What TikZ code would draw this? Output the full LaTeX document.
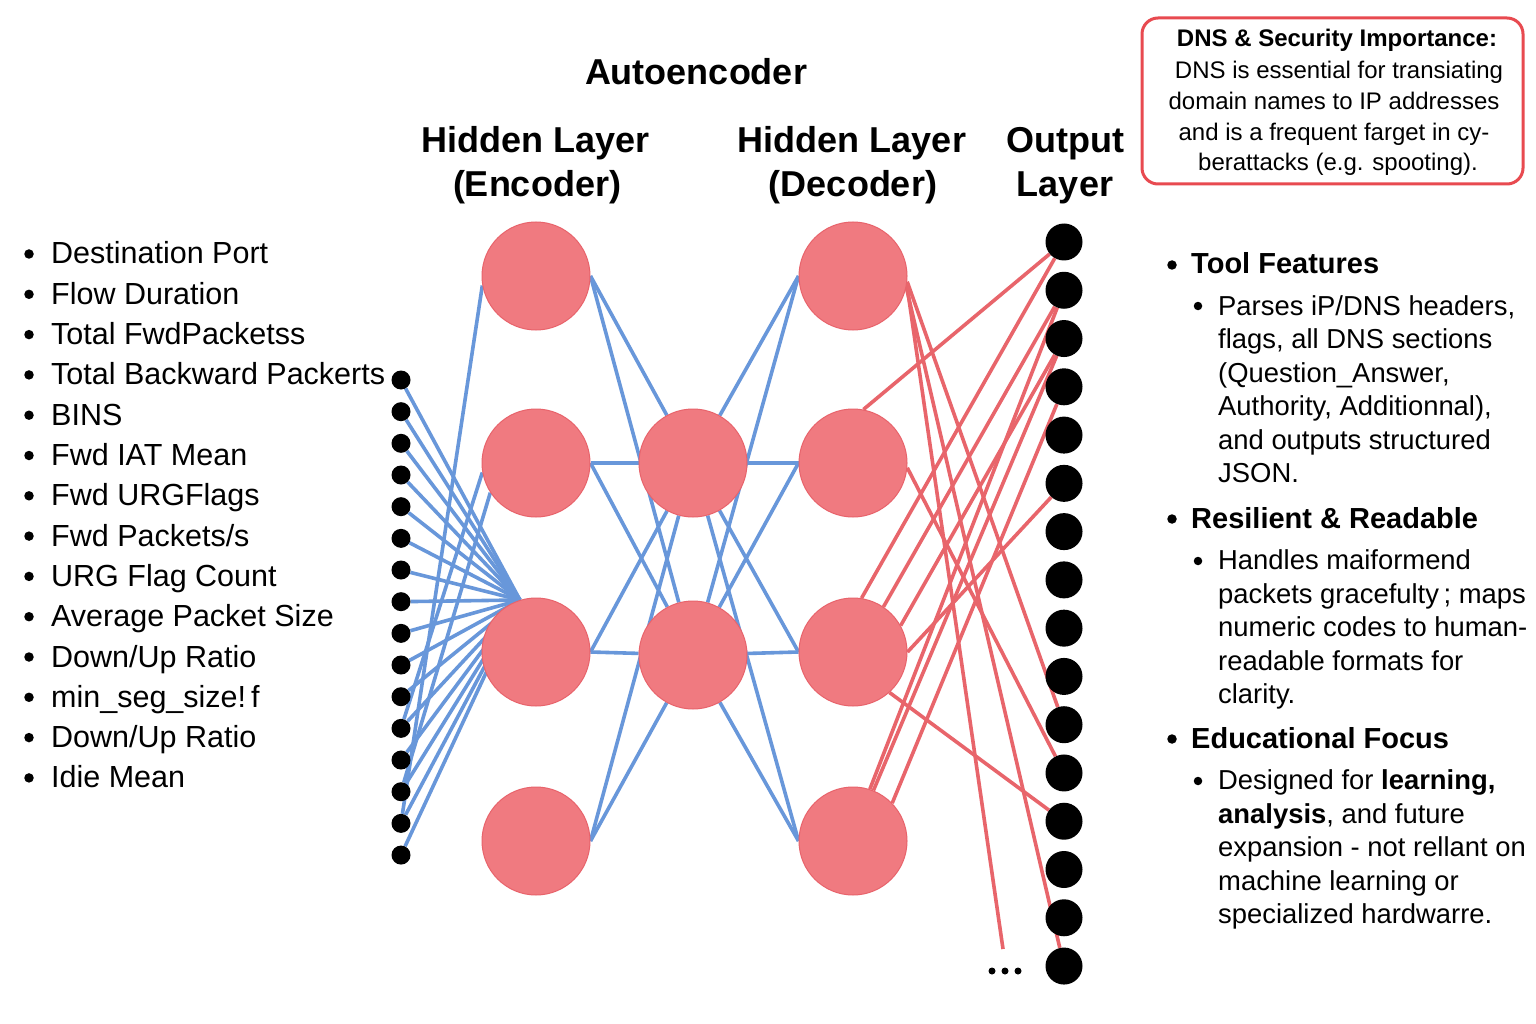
\documentclass[tikz,border=0pt]{standalone}
\usepackage{fontspec}
\setmainfont{Liberation Sans}
\pgfdeclarelayer{bg}
\pgfsetlayers{bg,main}
\definecolor{nfill}{HTML}{F07A80}
\definecolor{nedge}{HTML}{E8636B}
\definecolor{lblue}{HTML}{6897DA}
\definecolor{lred}{HTML}{E8656B}
\definecolor{boxred}{HTML}{E84A50}
\begin{document}
\begin{tikzpicture}[x=1pt,y=-1pt,
  neuron/.style={circle, fill=nfill, draw=nedge, line width=1pt, minimum size=108pt, inner sep=0pt},
  indot/.style={circle, fill=black, minimum size=19pt, inner sep=0pt},
  outdot/.style={circle, fill=black, minimum size=37pt, inner sep=0pt},
  tinydot/.style={circle, fill=black, minimum size=7pt, inner sep=0pt},
  bul/.style={circle, fill=black, minimum size=9.5pt, inner sep=0pt},
  sbul/.style={circle, fill=black, minimum size=8.5pt, inner sep=0pt},
  bluelink/.style={draw=lblue, line width=3.6pt},
  redlink/.style={draw=lred, line width=3.6pt},
  hdr/.style={font=\fontsize{36}{43}\selectfont\bfseries, anchor=base, inner sep=0pt},
  feat/.style={font=\fontsize{30.5}{36}\selectfont, anchor=base west, inner sep=0pt},
  rhead/.style={font=\fontsize{29}{35}\selectfont\bfseries, anchor=base west, inner sep=0pt},
  rtext/.style={font=\fontsize{27.4}{33}\selectfont, anchor=base west, inner sep=0pt},
  dnst/.style={font=\fontsize{24}{31}\selectfont, anchor=base, inner sep=0pt}
]
\useasboundingbox (0,0) rectangle (1536,1024);

% ---------- headers ----------
\node[hdr] (title) at (696,85) {Autoencoder};
\node[hdr] (h1a) at (536,153) {Hidden Layer};
\node[hdr] (h1b) at (537,197) {(Encoder)};
\node[hdr] (h2a) at (852,153) {Hidden Layer};
\node[hdr] (h2b) at (853,197) {(Decoder)};
\node[hdr] (h3a) at (1065,153) {Output};
\node[hdr] (h3b) at (1065,197) {Layer};

% ---------- input list ----------
\foreach \k in {1,...,14} \node[bul] (lb\k) at (29,{254+(\k-1)*40.3}) {};
\node[feat] (f1) at (51,264) {Destination Port};
\node[feat] (f2) at (51,304.3) {Flow Duration};
\node[feat] (f3) at (51,344.6) {Total FwdPacketss};
\node[feat] (f4) at (51,384.9) {Total Backward Packerts};
\node[feat] (f5) at (51,425.2) {BINS};
\node[feat] (f6) at (51,465.5) {Fwd IAT Mean};
\node[feat] (f7) at (51,505.8) {Fwd URGFlags};
\node[feat] (f8) at (51,546.1) {Fwd Packets/s};
\node[feat] (f9) at (51,586.4) {URG Flag Count};
\node[feat] (f10) at (51,626.7) {Average Packet Size};
\node[feat] (f11) at (51,667) {Down/Up Ratio};
\node[feat] (f12) at (51,707.3) {min\_seg\_size!\,f};
\node[feat] (f13) at (51,747.6) {Down/Up Ratio};
\node[feat] (f14) at (51,787.9) {Idie Mean};

% ---------- nodes ----------
\foreach \k in {1,...,16} \node[indot] (i\k) at (401,{380+(\k-1)*31.67}) {};
\node[neuron] (e1) at (536,276) {};
\node[neuron] (e2) at (536,463) {};
\node[neuron] (e3) at (536,652) {};
\node[neuron] (e4) at (536,841) {};
\node[neuron] (b1) at (693,463) {};
\node[neuron] (b2) at (693,655) {};
\node[neuron] (d1) at (853,276) {};
\node[neuron] (d2) at (853,463) {};
\node[neuron] (d3) at (853,652) {};
\node[neuron] (d4) at (853,841) {};
\foreach \k in {1,...,16} \node[outdot] (o\k) at (1064,{242+(\k-1)*48.27}) {};
\coordinate (conv) at (520,600);
\coordinate (free) at (1003,949);
\node[tinydot] (dd1) at (992,971) {};
\node[tinydot] (dd2) at (1005,971) {};
\node[tinydot] (dd3) at (1018,971) {};

% ---------- connectors ----------
\begin{pgfonlayer}{bg}
\fill[white] (0,0) rectangle (1536,1024);
\foreach \k in {1,...,16} \draw[bluelink] (i\k) -- (conv);
\draw[bluelink] (i15) -- (e1.190);
\draw[bluelink] (i12) -- (e2.190);
\draw[bluelink] (i14) -- (e2.213);
\foreach \a in {1,...,4} \foreach \b in {1,2} \draw[bluelink] (e\a.east) -- (b\b);
\foreach \a in {1,2} \foreach \b in {1,...,4} \draw[bluelink] (b\a) -- (d\b.west);
\draw[redlink] (d2.79) -- (o1);
\draw[redlink] (d3.81) -- (o1);
\draw[redlink] (d3.56) -- (o2);
\draw[redlink] (d3.29) -- (o3);
\draw[redlink] (d3.0) -- (o6);
\draw[redlink] (d4.72) -- (o2);
\draw[redlink] (d4.68) -- (o3);
\draw[redlink] (d4.44) -- (o4);
\draw[redlink] (d1.-6) -- (o11);
\draw[redlink] (d1.-9) -- (free);
\draw[redlink] (d1.-12) -- (o16);
\draw[redlink] (d2.-5) -- (o12);
\draw[redlink] (d3.-48) -- (o13);
\end{pgfonlayer}

% ---------- DNS box ----------
\node[draw=boxred, line width=3pt, rounded corners=16pt, minimum width=381pt, minimum height=166pt, inner sep=0pt] (dns) at (1332.5,101) {};
\node[dnst, font=\fontsize{24}{31}\selectfont\bfseries] (dn0) at (1337,47) {DNS \& Security Importance:};
\node[dnst] (dn1) at (1339,78.5) {DNS is essential for transiating};
\node[dnst] (dn2) at (1334,109.5) {domain names to IP addresses};
\node[dnst] (dn3) at (1334,140.5) {and is a frequent farget in cy-};
\node[dnst] (dn4) at (1338,171) {berattacks (e.g. spooting).};

% ---------- right column ----------
\node[bul] (rb1) at (1172,265) {};
\node[rhead] (rh1) at (1191,274) {Tool Features};
\node[sbul] (sb1) at (1198,306) {};
\node[rtext] (t11) at (1218,315) {Parses iP/DNS headers,};
\node[rtext] (t12) at (1218,348.5) {flags, all DNS sections};
\node[rtext] (t13) at (1218,382) {(Question\_Answer,};
\node[rtext] (t14) at (1218,415.5) {Authority, Additionnal),};
\node[rtext] (t15) at (1218,449) {and outputs structured};
\node[rtext] (t16) at (1218,482.5) {JSON.};

\node[bul] (rb2) at (1172,519) {};
\node[rhead] (rh2) at (1191,528) {Resilient \& Readable};
\node[sbul] (sb2) at (1198,561) {};
\node[rtext] (t21) at (1218,569.5) {Handles maiformend};
\node[rtext] (t22) at (1218,603) {packets gracefulty\,; maps};
\node[rtext] (t23) at (1218,636.5) {numeric codes to human-};
\node[rtext] (t24) at (1218,670) {readable formats for};
\node[rtext] (t25) at (1218,703.5) {clarity.};

\node[bul] (rb3) at (1172,739) {};
\node[rhead] (rh3) at (1191,748) {Educational Focus};
\node[sbul] (sb3) at (1198,781) {};
\node[rtext] (t31) at (1218,789.5) {Designed for \textbf{learning,}};
\node[rtext] (t32) at (1218,823) {\textbf{analysis}, and future};
\node[rtext] (t33) at (1218,856.5) {expansion - not rellant on};
\node[rtext] (t34) at (1218,890) {machine learning or};
\node[rtext] (t35) at (1218,923.5) {specialized hardwarre.};
\end{tikzpicture}
\end{document}
